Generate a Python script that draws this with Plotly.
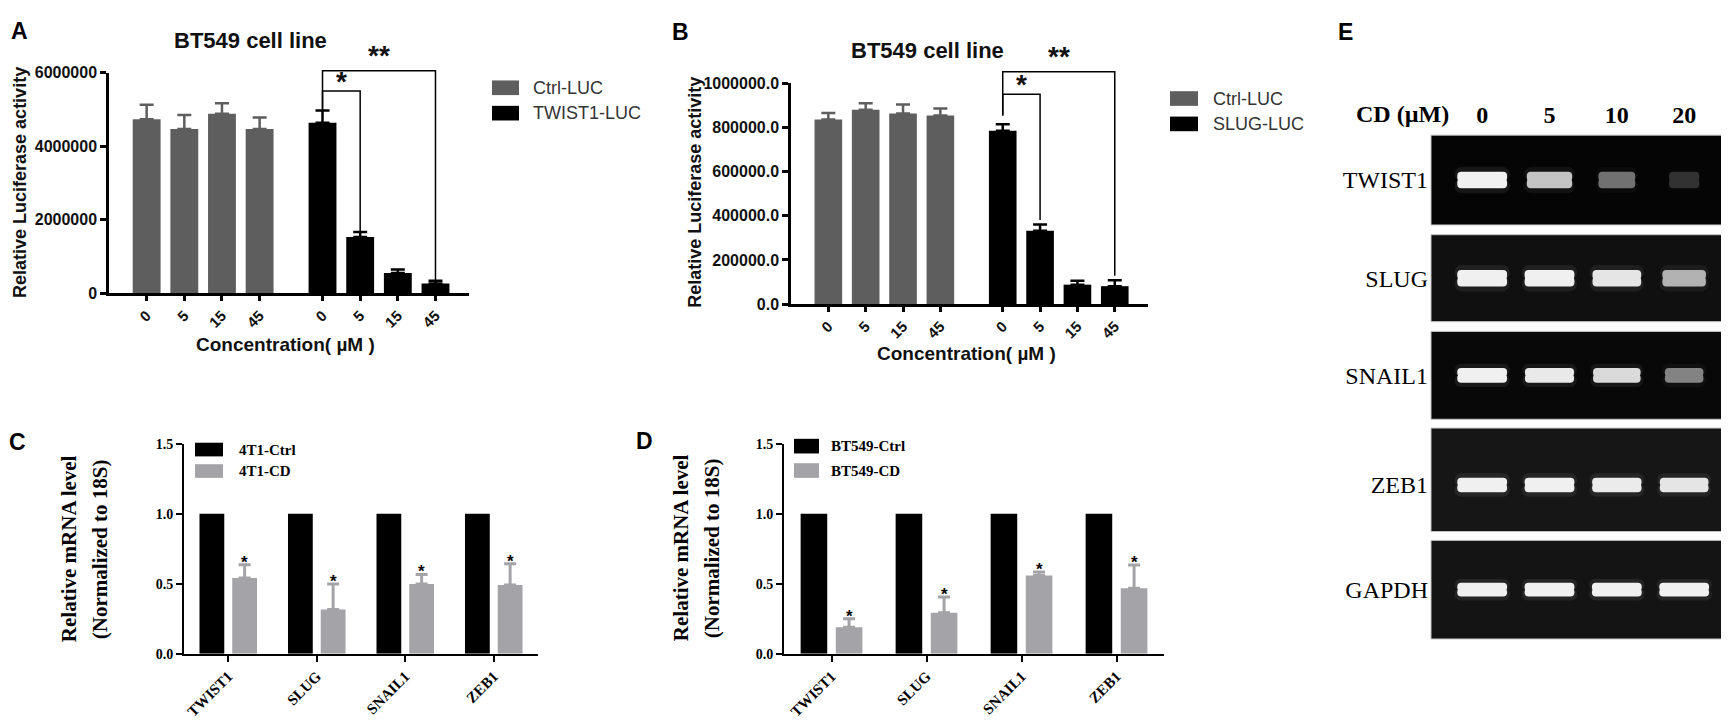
import plotly.graph_objects as go

W, H = 1729, 723

# =====================================================================
# DATA
# =====================================================================
conc_labels = ["0", "5", "15", "45"]

# panel A: TWIST1 promoter luciferase
a_names = ["Ctrl-LUC", "TWIST1-LUC"]
a_ctrl = [4730000, 4470000, 4880000, 4470000]
a_ctrl_err = [400000, 380000, 290000, 310000]
a_twist = [4640000, 1530000, 550000, 270000]
a_twist_err = [330000, 140000, 100000, 70000]

# panel B: SLUG promoter luciferase
b_names = ["Ctrl-LUC", "SLUG-LUC"]
b_ctrl = [836000, 880000, 863000, 855000]
b_ctrl_err = [30000, 30000, 41000, 31000]
b_slug = [785000, 332000, 88000, 81000]
b_slug_err = [30000, 29000, 18000, 27000]

# significance brackets: (from bar, to bar, bracket level, label)
a_sig = [(0, 1, 5500000, "*"), (0, 3, 6050000, "**")]
b_sig = [(0, 1, 951000, "*"), (0, 3, 1053000, "**")]

# panels C / D: qPCR
genes = ["TWIST1", "SLUG", "SNAIL1", "ZEB1"]
c_names = ["4T1-Ctrl", "4T1-CD"]
c_ctrl = [1.0, 1.0, 1.0, 1.0]
c_cd = [0.54, 0.315, 0.497, 0.49]
c_cd_err = [0.096, 0.182, 0.069, 0.153]

d_names = ["BT549-Ctrl", "BT549-CD"]
d_ctrl = [1.0, 1.0, 1.0, 1.0]
d_cd = [0.188, 0.293, 0.558, 0.468]
d_cd_err = [0.062, 0.112, 0.025, 0.165]

# panel E: RT-PCR gel, band brightness per lane (0..1)
gel_genes = ["TWIST1", "SLUG", "SNAIL1", "ZEB1", "GAPDH"]
cd_doses = ["0", "5", "10", "20"]
band_twist1 = [1.0, 0.8, 0.42, 0.13]
band_slug = [1.0, 1.0, 0.95, 0.72]
band_snail1 = [1.0, 0.97, 0.9, 0.5]
band_zeb1 = [1.0, 1.0, 0.98, 0.95]
band_gapdh = [1.0, 1.0, 1.0, 1.0]

# =====================================================================
# STYLE / LAYOUT
# =====================================================================
SANS = "Liberation Sans, Arial, sans-serif"
SERIF = "Liberation Serif, Times New Roman, serif"
DARK_GRAY = "#5e5e5e"
LIGHT_GRAY = "#a3a3a8"


def dom_x(p0, p1):
    return [p0 / W, p1 / W]


def dom_y(top, bottom):
    return [1 - bottom / H, 1 - top / H]


def to_paper(v, dom, rng):
    return dom[0] + (v - rng[0]) / (rng[1] - rng[0]) * (dom[1] - dom[0])


def ax_key(n, letter):
    return f"{letter}axis" if n == 1 else f"{letter}axis{n}"


def ax_ref(n, letter):
    return letter if n == 1 else f"{letter}{n}"


fig = go.Figure()
layout = {}
shapes = []
annotations = []


def note(text, x, y, size, family=SANS, bold=True, color="black",
         xanchor="center", yanchor="middle", **kw):
    annotations.append(dict(
        text=text, x=x / W, y=1 - y / H, xref="paper", yref="paper",
        xanchor=xanchor, yanchor=yanchor, showarrow=False,
        font=dict(family=family, size=size, color=color,
                  weight="bold" if bold else "normal"),
        **kw))


def legend_box(names, colors, x, ys, sw, sh, text_x, size, family, bold, tcolor):
    for name, col, yc in zip(names, colors, ys):
        shapes.append(dict(type="rect", xref="paper", yref="paper",
                           x0=x / W, x1=(x + sw) / W,
                           y0=1 - (yc + sh / 2) / H, y1=1 - (yc - sh / 2) / H,
                           fillcolor=col, line=dict(width=0)))
        note(name, text_x, yc, size, family=family, bold=bold, color=tcolor,
             xanchor="left")


# ---------------------------------------------------------------------
# Panels A and B (luciferase)
# ---------------------------------------------------------------------
ctrl_x = [0, 1, 2, 3]
trt_x = [i + 4.67 for i in range(4)]
luc_xrange = [-1.0, 8.56]


def luc_panel(n, ctrl, ctrl_err, trt, trt_err, names, xd, yd, yr, ytick, yfmt,
              sig, leg_gap):
    xr_, yr_ = ax_ref(n, "x"), ax_ref(n, "y")
    for xs, vals, errs, col, name in [(ctrl_x, ctrl, ctrl_err, DARK_GRAY, names[0]),
                                      (trt_x, trt, trt_err, "black", names[1])]:
        fig.add_trace(go.Bar(
            x=xs, y=vals, width=0.74, offset=-0.37, name=name,
            marker=dict(color=col, line=dict(width=0)),
            error_y=dict(type="data", array=errs, arrayminus=[0] * 4,
                         symmetric=False, color=col, thickness=2.5, width=7),
            xaxis=xr_, yaxis=yr_, showlegend=False))
    layout[ax_key(n, "x")] = dict(
        domain=xd, range=luc_xrange, anchor=yr_, showline=True, linecolor="black",
        linewidth=2.5, ticks="outside", ticklen=5, tickwidth=2.5, tickcolor="black",
        tickvals=ctrl_x + trt_x, ticktext=conc_labels * 2, tickangle=-45,
        tickfont=dict(family=SANS, size=15, color="#111", weight="bold"),
        showgrid=False, zeroline=False, fixedrange=True)
    layout[ax_key(n, "y")] = dict(
        domain=yd, range=yr, anchor=xr_, showline=True, linecolor="black",
        linewidth=2.5, ticks="outside", ticklen=6, tickwidth=2.5, tickcolor="black",
        tickvals=ytick, tickformat=yfmt,
        tickfont=dict(family=SANS, size=16, color="#111", weight="bold"),
        showgrid=False, zeroline=False, fixedrange=True)
    # significance brackets
    for i0, i1, level, label in sig:
        x0 = to_paper(trt_x[i0], xd, luc_xrange)
        x1 = to_paper(trt_x[i1], xd, luc_xrange)
        yt = to_paper(level, yd, yr)
        y0 = to_paper(trt[i0] + trt_err[i0] + leg_gap, yd, yr)
        y1 = to_paper(trt[i1] + trt_err[i1] + leg_gap * 0.5, yd, yr)
        shapes.append(dict(type="path", xref="paper", yref="paper",
                           path=f"M {x0} {y0} L {x0} {yt} L {x1} {yt} L {x1} {y1}",
                           line=dict(color="black", width=1.5)))
        annotations.append(dict(
            text=label, x=(x0 + x1) / 2, y=yt, xref="paper", yref="paper",
            xanchor="center", yanchor="bottom", yshift=-14 + 6 * len(label),
            showarrow=False,
            font=dict(family=SANS, size=28, color="#111", weight="bold")))


luc_panel(1, a_ctrl, a_ctrl_err, a_twist, a_twist_err, a_names,
          dom_x(101, 461), dom_y(58, 284), [0, 6000000],
          [0, 2000000, 4000000, 6000000], "d", a_sig, 0)
luc_panel(2, b_ctrl, b_ctrl_err, b_slug, b_slug_err, b_names,
          dom_x(783, 1140), dom_y(69, 295), [0, 1000000],
          [0, 200000, 400000, 600000, 800000, 1000000], ".1f", b_sig, 40000)

note("BT549 cell line", 243, 25, 22, color="#111")
note("BT549 cell line", 919, 35, 22, color="#111")
note("Relative Luciferase activity", 12, 171, 18, color="#111", textangle=-90)
note("Relative Luciferase activity", 687, 181, 18, color="#111", textangle=-90)
note("Concentration( µM )", 277, 336, 19, color="#111")
note("Concentration( µM )", 958, 346, 19, color="#111")
legend_box(a_names, [DARK_GRAY, "black"], 484, [73.5, 99.5], 27, 15, 523, 18,
           SANS, False, "#333")
legend_box(b_names, [DARK_GRAY, "black"], 1162, [84.5, 110.5], 28, 15, 1203, 18,
           SANS, False, "#333")

# ---------------------------------------------------------------------
# Panels C and D (qPCR)
# ---------------------------------------------------------------------
def qpcr_panel(n, ctrl, cd, cd_err, names, xd):
    xr_, yr_ = ax_ref(n, "x"), ax_ref(n, "y")
    yd = dom_y(438, 653)
    fig.add_trace(go.Bar(x=genes, y=ctrl, width=0.28, offset=-0.325, name=names[0],
                         marker=dict(color="black", line=dict(width=0)),
                         xaxis=xr_, yaxis=yr_, showlegend=False))
    fig.add_trace(go.Bar(x=genes, y=cd, width=0.28, offset=0.045, name=names[1],
                         marker=dict(color=LIGHT_GRAY, line=dict(width=0)),
                         error_y=dict(type="data", array=cd_err, arrayminus=[0] * 4,
                                      symmetric=False, color=LIGHT_GRAY,
                                      thickness=3, width=6),
                         xaxis=xr_, yaxis=yr_, showlegend=False))
    for i, g in enumerate(genes):
        annotations.append(dict(
            text="*", x=i + 0.185, y=cd[i] + cd_err[i], xref=xr_, yref=yr_,
            xanchor="center", yanchor="bottom", yshift=-9, showarrow=False,
            font=dict(family=SANS, size=17, color="black", weight="bold")))
    layout[ax_key(n, "x")] = dict(
        domain=xd, range=[-0.5, 3.5], anchor=yr_, type="category",
        showline=True, linecolor="black", linewidth=2, ticks="outside", ticklen=6,
        tickwidth=2, tickcolor="black", tickangle=-45,
        tickfont=dict(family=SERIF, size=15, color="black", weight="bold"),
        showgrid=False, zeroline=False, fixedrange=True)
    layout[ax_key(n, "y")] = dict(
        domain=yd, range=[0, 1.5], anchor=xr_, showline=True, linecolor="black",
        linewidth=2, ticks="outside", ticklen=6, tickwidth=2, tickcolor="black",
        tickvals=[0, 0.5, 1.0, 1.5], tickformat=".1f",
        tickfont=dict(family=SERIF, size=14, color="black", weight="bold"),
        showgrid=False, zeroline=False, fixedrange=True)


qpcr_panel(3, c_ctrl, c_cd, c_cd_err, c_names, dom_x(176, 530))
qpcr_panel(4, d_ctrl, d_cd, d_cd_err, d_names, dom_x(776, 1156))

for xc1, xc2, yc in [(61, 92, 546), (673, 704, 545)]:
    note("Relative mRNA level", xc1, yc, 21, family=SERIF, textangle=-90)
    note("(Normalized to 18S)", xc2, yc, 21, family=SERIF, textangle=-90)
legend_box(c_names, ["black", LIGHT_GRAY], 187, [444, 466], 28, 14, 229, 15,
           SERIF, True, "black")
legend_box(d_names, ["black", LIGHT_GRAY], 786, [440.5, 465.5], 25, 15, 821, 15,
           SERIF, True, "black")

# ---------------------------------------------------------------------
# Panel E (gel)
# ---------------------------------------------------------------------
lanes = [1, 2, 3, 4]
gel_bands = [band_twist1, band_slug, band_snail1, band_zeb1, band_gapdh]
gel_rows = [(122, 214), (224, 313), (323, 413), (422, 528), (537, 638)]
gel_bg = ["#050505", "#101010", "#080808", "#161616", "#141414"]
band_px = [17, 17, 15, 15, 14]
band_mid = [0.5, 0.5, 0.5, 0.45, 0.5]

for k, gene in enumerate(gel_genes):
    n = 5 + k
    xr_, yr_ = ax_ref(n, "x"), ax_ref(n, "y")
    top, bottom = gel_rows[k]
    hh = band_px[k] / 2 / (bottom - top)
    eps = 1.5 / (bottom - top)
    inten = gel_bands[k]
    widths = [0.74 * (0.55 + 0.45 * v) for v in inten]
    cols = [f"rgb({int(22 + 218 * v)},{int(22 + 218 * v)},{int(22 + 218 * v)})"
            for v in inten]
    glow = [f"rgba(255,255,255,{0.07 * v:.3f})" for v in inten]
    # each band = an upper and a lower half (rounded at the far ends),
    # overlapping slightly at the middle so no seam shows
    for sign in (1, -1):
        fig.add_trace(go.Bar(x=lanes, y=[sign * (hh * 1.6 + eps)] * 4,
                             base=[band_mid[k] - sign * eps] * 4,
                             width=[w + 0.08 for w in widths],
                             marker=dict(color=glow, line=dict(width=0), cornerradius=11),
                             xaxis=xr_, yaxis=yr_, showlegend=False, hoverinfo="skip"))
    for sign in (1, -1):
        fig.add_trace(go.Bar(x=lanes, y=[sign * (hh + eps)] * 4,
                             base=[band_mid[k] - sign * eps] * 4,
                             width=widths, name=gene,
                             marker=dict(color=cols, line=dict(width=0), cornerradius=7),
                             xaxis=xr_, yaxis=yr_, showlegend=False))
    xaxis = dict(domain=dom_x(1423, 1728), range=[0.24, 4.77], anchor=yr_,
                 showline=False, showgrid=False, zeroline=False, fixedrange=True,
                 showticklabels=False, ticks="")
    if k == 0:
        xaxis.update(side="top", showticklabels=True, tickvals=lanes,
                     ticktext=cd_doses, ticklabelstandoff=6,
                     tickfont=dict(family=SERIF, size=24, color="black", weight="bold"))
    layout[ax_key(n, "x")] = xaxis
    layout[ax_key(n, "y")] = dict(
        domain=dom_y(top, bottom), range=[0, 1], anchor=xr_, showline=False,
        showgrid=False, zeroline=False, fixedrange=True, ticks="",
        tickvals=[band_mid[k]], ticktext=[gene], ticklabelstandoff=2,
        tickfont=dict(family=SERIF, size=24, color="black"))
    shapes.append(dict(type="rect", xref=f"{xr_} domain", yref=f"{yr_} domain",
                       x0=0, x1=1, y0=0, y1=1, fillcolor=gel_bg[k],
                       line=dict(color="#c4c4c4", width=1), layer="below"))

note("CD (µM)", 1443, 100, 24, family=SERIF, xanchor="right")

# panel letters
for letter, lx, ly in [("A", 11, 15), ("B", 672, 16), ("C", 9, 436),
                       ("D", 636, 435), ("E", 1337, 16)]:
    note(letter, lx, ly, 23)

fig.update_layout(
    width=W, height=H, autosize=False,
    margin=dict(l=0, r=0, t=0, b=0),
    paper_bgcolor="white", plot_bgcolor="white",
    barmode="overlay", showlegend=False,
    shapes=shapes, annotations=annotations,
    **layout,
)

fig.write_html("out.html")
